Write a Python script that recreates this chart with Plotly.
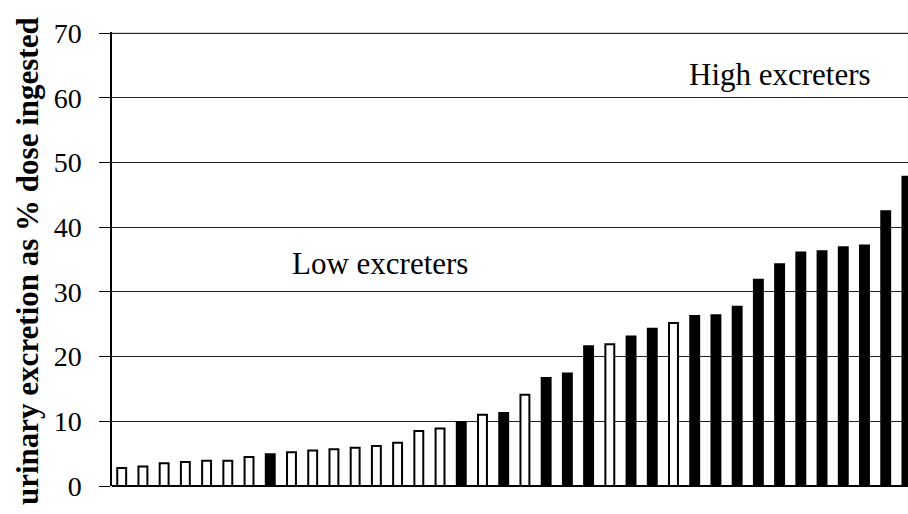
import plotly.graph_objects as go

# Data (sorted subjects, % of ingested dose excreted in urine)
subjects = list(range(1, 39))
excretion = [2.8, 3.0, 3.5, 3.7, 3.9, 3.9, 4.5, 4.9, 5.2, 5.5,
             5.7, 5.9, 6.2, 6.7, 8.5, 8.9, 9.9, 11.0, 11.3, 14.1,
             16.7, 17.4, 21.6, 21.9, 23.1, 24.3, 25.2, 26.3, 26.4, 27.7,
             31.9, 34.3, 36.1, 36.3, 36.9, 37.2, 42.5, 47.8]
# "open" = white (hollow) bar, "filled" = black bar
bar_type = ["open", "open", "open", "open", "open", "open", "open", "filled", "open", "open",
            "open", "open", "open", "open", "open", "open", "filled", "open", "filled", "open",
            "filled", "filled", "filled", "open", "filled", "filled", "open", "filled", "filled", "filled",
            "filled", "filled", "filled", "filled", "filled", "filled", "filled", "filled"]
y_ticks = [0, 10, 20, 30, 40, 50, 60, 70]
y_top = 70

FONT = "Liberation Serif, Times New Roman, serif"
W, H = 908, 514
ML, MR, MT, MB = 112, 0, 32, 28
PW, PH = W - ML - MR, H - MT - MB

def px(x):
    return (x - ML) / PW

def py(y):
    return (H - MB - y) / PH

colors = ["white" if t == "open" else "black" for t in bar_type]
xs = list(range(len(subjects)))

fig = go.Figure(go.Bar(
    x=xs, y=excretion, width=0.42,
    marker=dict(color=colors, line=dict(color="black", width=2)),
    hoverinfo="y", showlegend=False,
))

fig.update_layout(
    width=W, height=H,
    margin=dict(l=ML, r=MR, t=MT, b=MB, pad=0),
    paper_bgcolor="white", plot_bgcolor="white",
    font=dict(family=FONT, color="black"),
    bargap=0.5,
    xaxis=dict(range=[-0.457, 37.05], showticklabels=False, showgrid=False,
               zeroline=False, showline=False, ticks=""),
    yaxis=dict(range=[0, 70.2], tickvals=y_ticks, ticktext=[str(v) for v in y_ticks],
               tickfont=dict(family=FONT, size=28, color="black"),
               showgrid=True, gridcolor="#222222", gridwidth=1,
               zeroline=True, zerolinecolor="black", zerolinewidth=1.5,
               showline=True, linecolor="black", linewidth=1.5,
               ticks="outside", ticklen=11, tickwidth=1, tickcolor="black",
               ticklabelstandoff=12),
    shapes=[dict(type="line", xref="paper", yref="y", x0=0, x1=1, y0=y_top, y1=y_top,
                 layer="below", line=dict(color="#444444", width=1))],
    annotations=[
        dict(text="<b>urinary excretion as % dose ingested</b>", textangle=-90,
             xref="paper", yref="paper", x=px(27), y=py(261),
             xanchor="center", yanchor="middle", showarrow=False,
             font=dict(family=FONT, size=31, color="black")),
        dict(text="High excreters", xref="paper", yref="paper",
             x=px(779.5), y=py(74), xanchor="center", yanchor="middle",
             showarrow=False, font=dict(family=FONT, size=31, color="black")),
        dict(text="Low excreters", xref="paper", yref="paper",
             x=px(380), y=py(263), xanchor="center", yanchor="middle",
             showarrow=False, font=dict(family=FONT, size=31, color="black")),
    ],
)

fig.write_html("out.html", config={"displayModeBar": False},
               post_script="document.body.style.margin='0';document.body.style.overflow='hidden';")
